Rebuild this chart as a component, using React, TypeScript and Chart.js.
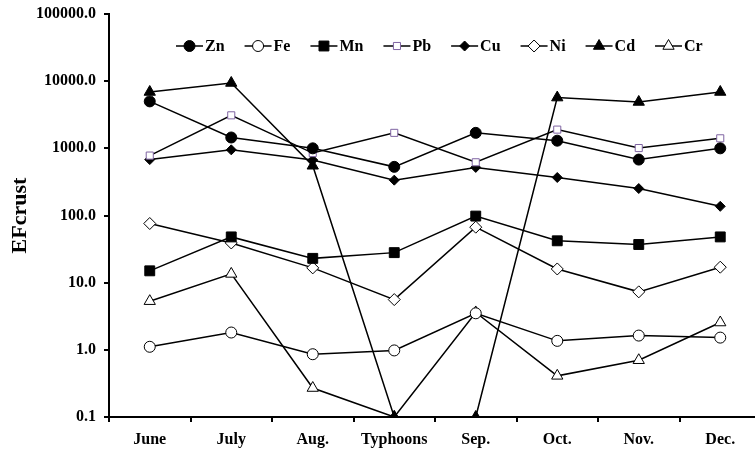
import React, { useEffect, useRef } from 'react';
import { Chart, registerables } from 'chart.js';
import { drawPoint } from 'chart.js/helpers';

Chart.register(...registerables);

const categories = ['June', 'July', 'Aug.', 'Typhoons', 'Sep.', 'Oct.', 'Nov.', 'Dec.'];
const znValues = [5000, 1450, 1000, 530, 1700, 1300, 680, 1000];
const feValues = [1.11, 1.81, 0.86, 0.98, 3.5, 1.36, 1.63, 1.52];
const mnValues = [15, 48, 23, 28, 98, 42, 37, 48];
const pbValues = [780, 3100, 850, 1700, 620, 1900, 1010, 1410];
const cuValues = [680, 950, 670, 336, 520, 368, 252, 137];
const niValues = [76, 39, 16.6, 5.6, 67, 16, 7.3, 17];
const cdValues = [6900, 9400, 550, 0.1, 0.1, 5700, 4900, 6900];
const crValues = [5.3, 13.5, 0.27, 0.1, 3.6, 0.41, 0.7, 2.55];
const yTickValues = [0.1, 1, 10, 100, 1000, 10000, 100000];

const FONT = '"Liberation Serif", "Times New Roman", serif';

const legendPlugin = {
  id: 'customLegend',
  afterDraw(chart: any) {
    const ctx = chart.ctx;
    ctx.save();
    ctx.font = `bold 16px ${FONT}`;
    ctx.textBaseline = 'middle';
    ctx.textAlign = 'left';
    let x = 176;
    const y = 46;
    chart.data.datasets.forEach((ds: any) => {
      ctx.strokeStyle = '#000';
      ctx.lineWidth = 1.5;
      ctx.beginPath();
      ctx.moveTo(x, y);
      ctx.lineTo(x + 27, y);
      ctx.stroke();
      ctx.fillStyle = ds.pointBackgroundColor;
      ctx.strokeStyle = ds.pointBorderColor;
      ctx.lineWidth = ds.pointBorderWidth;
      drawPoint(ctx, { pointStyle: ds.pointStyle, radius: ds.pointRadius, borderWidth: ds.pointBorderWidth, rotation: 0 } as any, x + 13.5, y);
      ctx.fillStyle = '#000';
      ctx.fillText(ds.label, x + 29, y + 1);
      x += 29 + ctx.measureText(ds.label).width + 20;
    });
    ctx.restore();
  },
};

function series(label: string, data: number[], pointStyle: string, radius: number, fill: string, stroke = '#000') {
  return {
    label,
    data,
    borderColor: '#000',
    borderWidth: 1.5,
    pointStyle,
    pointRadius: radius,
    pointHoverRadius: radius,
    pointBackgroundColor: fill,
    pointBorderColor: stroke,
    pointBorderWidth: 1,
    tension: 0,
    fill: false,
  };
}

export default function App() {
  const ref = useRef<HTMLCanvasElement>(null);
  useEffect(() => {
    if (!ref.current) return;
    const chart = new Chart(ref.current, {
      type: 'line',
      data: {
        labels: categories,
        datasets: [
          series('Zn', znValues, 'circle', 5.5, '#000'),
          series('Fe', feValues, 'circle', 5.5, '#fff'),
          series('Mn', mnValues, 'rect', 7, '#000'),
          series('Pb', pbValues, 'rect', 5, '#fff', '#7F64A2'),
          series('Cu', cuValues, 'rectRot', 5, '#000'),
          series('Ni', niValues, 'rectRot', 6, '#fff'),
          series('Cd', cdValues, 'triangle', 6.5, '#000'),
          series('Cr', crValues, 'triangle', 6.5, '#fff'),
        ] as any,
      },
      options: {
        responsive: false,
        animation: false,
        devicePixelRatio: 1,
        layout: { padding: { top: 14, right: 4, left: 0, bottom: 0 } },
        plugins: { legend: { display: false }, tooltip: { enabled: false } },
        scales: {
          x: {
            type: 'category',
            offset: true,
            grid: { offset: true, drawOnChartArea: false, drawTicks: true, tickLength: 5, lineWidth: 2, color: '#000' },
            border: { display: true, color: '#000', width: 2 },
            ticks: { font: { family: FONT, size: 16, weight: 'bold' }, color: '#000', padding: 8, maxRotation: 0, autoSkip: false },
            afterFit: (s: any) => { s.height = 36; s.paddingLeft = 0; s.paddingRight = 0; },
          },
          y: {
            type: 'logarithmic',
            min: 0.1,
            max: 100000,
            grid: { drawOnChartArea: false, drawTicks: true, tickLength: 5, lineWidth: 2, color: '#000' },
            border: { display: true, color: '#000', width: 2 },
            ticks: {
              font: { family: FONT, size: 16, weight: 'bold' },
              color: '#000',
              padding: 8,
              autoSkip: false,
              callback: (v: any) => Number(v).toFixed(1),
            },
            afterBuildTicks: (s: any) => { s.ticks = yTickValues.map((v) => ({ value: v })); },
            afterFit: (s: any) => { s.width = 109; s.paddingTop = 0; s.paddingBottom = 0; },
            title: { display: true, text: 'EFcrust', color: '#000', font: { family: FONT, size: 22, weight: 'bold' }, padding: { top: 7, bottom: 0 } },
          },
        },
      } as any,
      plugins: [legendPlugin],
    });
    return () => chart.destroy();
  }, []);
  return (
    <div style={{ position: 'fixed', left: 0, top: 0, width: 755, height: 453, overflow: 'hidden', background: '#fff' }}>
      <canvas ref={ref} width={769} height={453} style={{ display: 'block' }} />
    </div>
  );
}
